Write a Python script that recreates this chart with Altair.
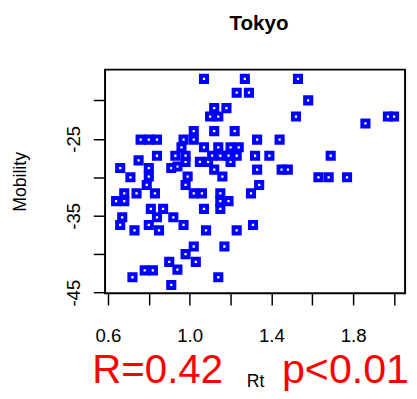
import altair as alt
import pandas as pd

# Data (grouped by rows of similar Mobility)
rt = [
    1.07, 1.27, 1.53,
    1.23, 1.29,
    1.58,
    1.12, 1.18,
    1.10, 1.14, 1.52, 1.97, 2.00,
    1.86,
    1.02, 1.12, 1.22,
    0.76, 0.80, 0.84, 0.97, 1.02, 1.33, 1.44,
    0.96, 1.07, 1.14, 1.20, 1.24,
    1.69, 0.84, 0.93, 0.98, 1.11, 1.15, 1.19, 1.23, 1.32, 1.39,
    0.75,
    0.98, 1.05, 1.09, 1.20,
    0.94,
    0.66, 0.80, 0.91,
    1.12, 1.33, 1.45, 1.48,
    0.80, 0.99, 1.16,
    0.71, 1.63, 1.68, 1.77,
    0.79, 0.98, 1.34,
    0.68, 0.74, 0.83, 1.02, 1.06, 1.15, 1.30,
    0.64, 0.68, 1.15, 1.19,
    0.81, 0.87, 1.07, 1.15,
    0.67, 0.84, 0.92,
    0.66, 0.80, 0.97, 1.31,
    0.73, 0.85, 1.08, 1.23,
    1.02, 1.17,
    0.98,
    0.90, 1.03,
    0.94,
    0.78, 0.82,
    0.72, 1.14,
    0.91,
]
mobility = [
    -17.2, -17.2, -17.2,
    -19.0, -19.0,
    -20.0,
    -21.0, -21.0,
    -22.1, -22.1, -22.1, -22.1, -22.1,
    -23.0,
    -24.0, -24.0, -24.0,
    -25.1, -25.1, -25.1, -25.1, -25.1, -25.1, -25.1,
    -26.1, -26.1, -26.1, -26.1, -26.1,
    -27.2, -27.2, -27.2, -27.2, -27.2, -27.2, -27.2, -27.2, -27.2, -27.2,
    -27.8,
    -28.0, -28.0, -28.0, -28.0,
    -28.6,
    -28.8, -28.8, -28.8,
    -29.0, -29.0, -29.0, -29.0,
    -29.9, -29.9, -29.9,
    -30.0, -30.0, -30.0, -30.0,
    -31.0, -31.0, -31.0,
    -32.1, -32.1, -32.1, -32.1, -32.1, -32.1, -32.1,
    -33.1, -33.1, -33.1, -33.1,
    -34.1, -34.1, -34.1, -34.1,
    -35.2, -35.2, -35.2,
    -36.2, -36.2, -36.2, -36.2,
    -36.9, -36.9, -36.9, -36.9,
    -39.0, -39.0,
    -40.0,
    -41.0, -41.0,
    -42.0,
    -42.1, -42.1,
    -43.0, -43.0,
    -44.0,
]

x_ticks = [0.6, 0.8, 1.0, 1.2, 1.4, 1.6, 1.8, 2.0]
x_labels = [0.6, 1.0, 1.4, 1.8]
y_ticks = [-45, -40, -35, -30, -25, -20]
y_labels = [-45, -35, -25]

title_text = ["Tokyo"]
r_text = ["R=0.42"]
p_text = ["p<0.01"]

df = pd.DataFrame({"Rt": rt, "Mobility": mobility})

FONT = "Liberation Sans"

x_label_expr = "indexof(%s, datum.value) >= 0 ? format(datum.value, '.1f') : ''" % str(x_labels)
y_label_expr = "indexof(%s, datum.value) >= 0 ? '' + datum.value : ''" % str(y_labels)

points = alt.Chart(df).mark_point(
    shape="square", filled=False, color="#0000FF", strokeWidth=4, size=40, opacity=1
).encode(
    x=alt.X("Rt:Q",
            scale=alt.Scale(domain=[0.586, 2.054], nice=False, zero=False),
            axis=alt.Axis(values=x_ticks, labelExpr=x_label_expr, tickSize=12,
                          labelPadding=22, title="Rt", titleX=153, titleY=95,
                          titleBaseline="alphabetic", titleAlign="center")),
    y=alt.Y("Mobility:Q",
            scale=alt.Scale(domain=[-45.07, -16.0], nice=False, zero=False),
            axis=alt.Axis(values=y_ticks, labelExpr=y_label_expr, tickSize=12,
                          labelAngle=270, labelAlign="center", labelBaseline="bottom",
                          labelPadding=10, title="Mobility", titleAngle=270,
                          titleX=-86, titleY=114, titleAlign="center",
                          titleBaseline="middle")),
)

title_mark = alt.Chart(pd.DataFrame({"t": title_text})).mark_text(
    font=FONT, fontSize=21, fontWeight="bold", align="center",
    baseline="alphabetic", color="black"
).encode(text="t:N", x=alt.value(157), y=alt.value(-40))

r_mark = alt.Chart(pd.DataFrame({"t": r_text})).mark_text(
    font=FONT, fontSize=41, align="left", baseline="alphabetic", color="#FF0000"
).encode(text="t:N", x=alt.value(-13), y=alt.value(320))

p_mark = alt.Chart(pd.DataFrame({"t": p_text})).mark_text(
    font=FONT, fontSize=42, align="right", baseline="alphabetic", color="#FF0000"
).encode(text="t:N", x=alt.value(310), y=alt.value(320))

chart = alt.layer(points, title_mark, r_mark, p_mark).properties(
    width=306, height=228,
    autosize=alt.AutoSizeParams(type="none"),
    padding={"left": 99, "top": 59, "right": 4, "bottom": 100},
).configure_axis(
    domain=False, grid=False, tickColor="black", tickWidth=1.5,
    labelColor="black", labelFont=FONT, labelFontSize=19,
    titleFont=FONT, titleFontSize=18, titleFontWeight="normal", titleColor="black",
    labelFlush=False, labelOverlap=False,
).configure_view(stroke="black", strokeWidth=2)

chart.save("out.html", embed_options={"renderer": "svg", "actions": False})
